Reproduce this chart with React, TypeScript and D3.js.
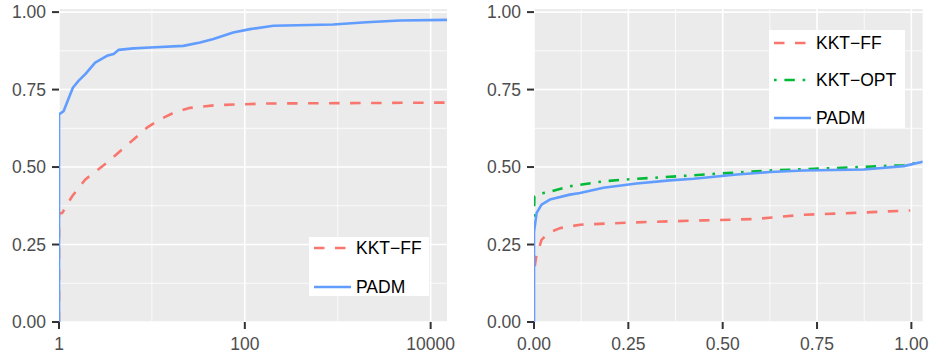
import React, { useEffect, useRef } from "react";
import * as d3 from "d3";

// left panel: performance ratio (log scale)
const leftPadmT = [1, 1, 1.12, 1.22, 1.41, 1.62, 1.92, 2.45, 3.28, 3.87, 4.37, 6.34, 9.6, 21.8, 33, 45.9, 75, 114, 203, 890, 2040, 4680, 15000];
const leftPadmV = [0, 0.67, 0.68, 0.708, 0.756, 0.778, 0.8, 0.837, 0.859, 0.865, 0.878, 0.883, 0.886, 0.891, 0.902, 0.913, 0.934, 0.945, 0.956, 0.96, 0.967, 0.973, 0.975];
const leftFfT = [1, 1, 1.085, 1.38, 1.92, 3.28, 6.34, 8.83, 12.3, 17.1, 25.8, 50, 172, 15000];
const leftFfV = [0, 0.35, 0.352, 0.405, 0.46, 0.514, 0.589, 0.627, 0.654, 0.675, 0.691, 0.7, 0.705, 0.708];

// right panel: absolute gap
const rightPadmT = [0, 0, 0.007, 0.02, 0.042, 0.095, 0.122, 0.184, 0.272, 0.36, 0.423, 0.538, 0.626, 0.714, 0.874, 0.98, 1.03];
const rightPadmV = [0, 0.29, 0.352, 0.379, 0.395, 0.411, 0.416, 0.433, 0.447, 0.457, 0.462, 0.476, 0.484, 0.489, 0.492, 0.503, 0.517];
const rightOptT = [0, 0.001, 0.007, 0.02, 0.042, 0.095, 0.184, 0.246, 0.405, 0.493, 0.626, 0.803, 0.98, 1.03];
const rightOptV = [0.34, 0.404, 0.408, 0.415, 0.42, 0.438, 0.454, 0.46, 0.472, 0.479, 0.489, 0.497, 0.506, 0.517];
const rightFfT = [0.002, 0.006, 0.02, 0.038, 0.069, 0.122, 0.255, 0.449, 0.582, 0.714, 0.847, 0.997];
const rightFfV = [0.18, 0.211, 0.265, 0.287, 0.303, 0.314, 0.321, 0.328, 0.332, 0.346, 0.352, 0.36];

const yTicks = [0, 0.25, 0.5, 0.75, 1];
const yMinor = [0.125, 0.375, 0.625, 0.875];
const leftXTicks = [1, 100, 10000];
const leftXMinor = [10, 1000];
const rightXTicks = [0, 0.25, 0.5, 0.75, 1];
const rightXMinor = [0.125, 0.375, 0.625, 0.875];

const seriesStyle: Record<string, { color: string; dash: string | null }> = {
  "KKT−FF": { color: "#F8766D", dash: "10.5,10.5" },
  "KKT−OPT": { color: "#00BA38", dash: "2.6,7.8,10.4,7.8" },
  PADM: { color: "#619CFF", dash: null },
};

const FONT = "'Liberation Sans', Arial, Helvetica, sans-serif";
const FS = 17.5;

function drawPanel(
  svg: d3.Selection<SVGSVGElement, unknown, null, undefined>,
  x: any,
  y: d3.ScaleLinear<number, number>,
  xTicks: number[],
  xMinor: number[],
  xFmt: (d: number) => string,
  series: { name: string; t: number[]; v: number[] }[],
  legend: { x: number; y: number; w: number; h: number; rows: number[] }
) {
  const [x0, x1] = x.range();
  const [y0, y1] = y.range();
  const g = svg.append("g");
  const clipId = "clip" + Math.round(x0);

  g.append("clipPath").attr("id", clipId).append("rect")
    .attr("x", x0).attr("y", y1).attr("width", x1 - x0).attr("height", y0 - y1);

  g.append("rect").attr("x", x0).attr("y", y1).attr("width", x1 - x0).attr("height", y0 - y1)
    .attr("fill", "#EBEBEB");

  // gridlines
  g.selectAll(".ym").data(yMinor).join("line")
    .attr("x1", x0).attr("x2", x1).attr("y1", (d) => y(d)).attr("y2", (d) => y(d))
    .attr("stroke", "#fff").attr("stroke-width", 0.8);
  g.selectAll(".xm").data(xMinor).join("line")
    .attr("x1", (d) => x(d)).attr("x2", (d) => x(d)).attr("y1", y0).attr("y2", y1)
    .attr("stroke", "#fff").attr("stroke-width", 0.8);
  g.selectAll(".yM").data(yTicks).join("line")
    .attr("x1", x0).attr("x2", x1).attr("y1", (d) => y(d)).attr("y2", (d) => y(d))
    .attr("stroke", "#fff").attr("stroke-width", 1.6);
  g.selectAll(".xM").data(xTicks).join("line")
    .attr("x1", (d) => x(d)).attr("x2", (d) => x(d)).attr("y1", y0).attr("y2", y1)
    .attr("stroke", "#fff").attr("stroke-width", 1.6);

  // lines
  const line = d3.line<[number, number]>().x((d) => x(d[0])).y((d) => y(d[1]));
  const lg = g.append("g").attr("clip-path", `url(#${clipId})`);
  series.forEach((s) => {
    const st = seriesStyle[s.name];
    lg.append("path")
      .attr("d", line(s.t.map((t, i) => [t, s.v[i]] as [number, number])))
      .attr("fill", "none").attr("stroke", st.color).attr("stroke-width", 2.6)
      .attr("stroke-dasharray", st.dash).attr("stroke-linejoin", "round");
  });

  // axes
  g.selectAll(".yt").data(yTicks).join("line")
    .attr("x1", x0 - 7).attr("x2", x0).attr("y1", (d) => y(d)).attr("y2", (d) => y(d))
    .attr("stroke", "#333").attr("stroke-width", 2);
  g.selectAll(".yl").data(yTicks).join("text")
    .attr("x", x0 - 13).attr("y", (d) => y(d)).attr("dy", "0.36em")
    .attr("text-anchor", "end").attr("font-family", FONT).attr("font-size", FS)
    .attr("fill", "#4D4D4D").text((d) => d3.format(".2f")(d));
  g.selectAll(".xt").data(xTicks).join("line")
    .attr("x1", (d) => x(d)).attr("x2", (d) => x(d)).attr("y1", y0).attr("y2", y0 + 7)
    .attr("stroke", "#333").attr("stroke-width", 2);
  g.selectAll(".xl").data(xTicks).join("text")
    .attr("x", (d) => x(d)).attr("y", y0 + 28)
    .attr("text-anchor", "middle").attr("font-family", FONT).attr("font-size", FS)
    .attr("fill", "#4D4D4D").text((d) => xFmt(d));

  // legend
  const leg = g.append("g");
  leg.append("rect").attr("x", legend.x).attr("y", legend.y).attr("width", legend.w).attr("height", legend.h)
    .attr("fill", "#fff");
  series.forEach((s, i) => {
    const st = seriesStyle[s.name];
    const ry = legend.rows[i];
    leg.append("line").attr("x1", legend.x + 5).attr("x2", legend.x + 42).attr("y1", ry).attr("y2", ry)
      .attr("stroke", st.color).attr("stroke-width", 2.6).attr("stroke-dasharray", st.dash);
    leg.append("text").attr("x", legend.x + 47).attr("y", ry).attr("dy", "0.36em")
      .attr("font-family", FONT).attr("font-size", FS).attr("fill", "#000").text(s.name);
  });
}

const App = () => {
  const svgRef = useRef<SVGSVGElement>(null);

  useEffect(() => {
    const svg = d3.select(svgRef.current!);
    svg.selectAll("*").remove();

    const y = d3.scaleLinear().domain([0, 1.01]).range([322, 9]);

    const xl = d3.scaleLog().domain([1, 15000]).range([59, 447]);
    drawPanel(svg, xl, y, leftXTicks, leftXMinor, (d) => String(d),
      [
        { name: "KKT−FF", t: leftFfT, v: leftFfV },
        { name: "PADM", t: leftPadmT, v: leftPadmV },
      ],
      { x: 309, y: 237, w: 120, h: 59, rows: [248, 287] });

    const xr = d3.scaleLinear().domain([0, 1.03]).range([534, 922.7]);
    drawPanel(svg, xr, y, rightXTicks, rightXMinor, (d) => d3.format(".2f")(d),
      [
        { name: "KKT−FF", t: rightFfT, v: rightFfV },
        { name: "KKT−OPT", t: rightOptT, v: rightOptV },
        { name: "PADM", t: rightPadmT, v: rightPadmV },
      ],
      { x: 769, y: 30, w: 136, h: 98, rows: [43, 80, 118] });
  }, []);

  return (
    <svg ref={svgRef} width={931} height={359}
      style={{ position: "absolute", left: 0, top: 0, background: "#fff" }} />
  );
};

export default App;
